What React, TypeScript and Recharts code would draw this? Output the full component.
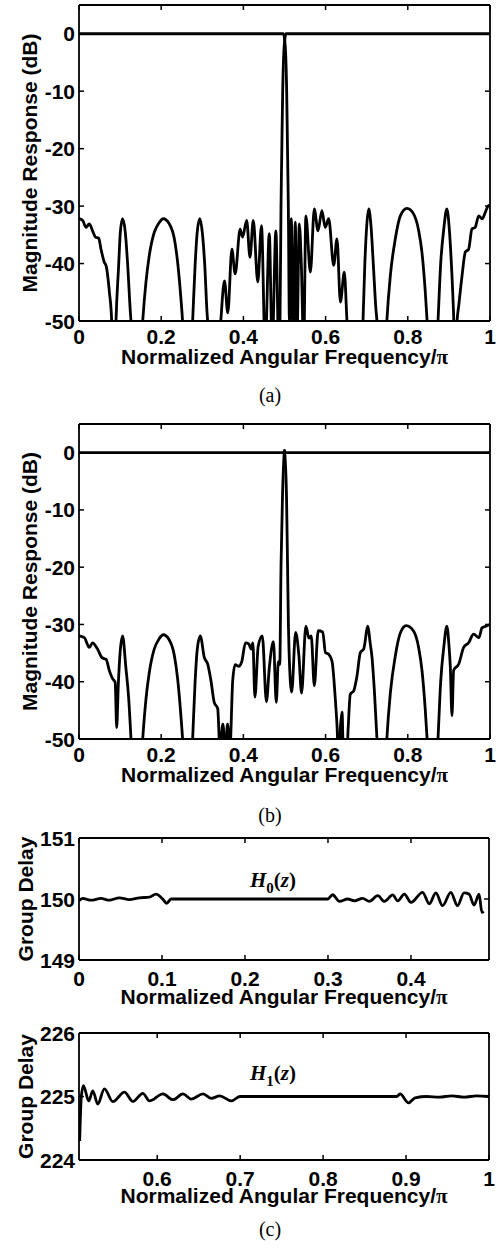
import React from 'react'
import { LineChart, Line, XAxis, YAxis } from 'recharts'

const SANS = '"Liberation Sans", Arial, Helvetica, sans-serif'
const SERIF = '"Liberation Serif", "Times New Roman", Times, serif'
const INK = '#000'

// ---- (a) magnitude responses, dB ----
const aH0Freq = [
  0, 0.4975, 0.5005, 0.5025, 0.5053, 0.5073, 0.5093, 0.512, 0.5145, 0.5166, 0.5207, 0.5263, 0.53, 0.536, 0.541,
  0.5467, 0.552, 0.563, 0.5725, 0.5815, 0.591, 0.599, 0.6075, 0.6197, 0.6277, 0.636, 0.6455, 0.652, 0.671,
  0.691, 0.6955, 0.7, 0.705, 0.7105, 0.716, 0.7225, 0.725, 0.737,
  0.749, 0.7575, 0.7696, 0.7818, 0.798, 0.8143, 0.8265, 0.8345, 0.8426, 0.847, 0.86,
  0.8735, 0.88, 0.8875, 0.895, 0.901, 0.906, 0.912, 0.916,
  0.92, 0.924, 0.932, 0.94, 0.948, 0.956, 0.964, 0.9725, 0.981, 0.989, 0.997, 1,
]
const aH0Db = [
  0, 0, -1.2, -3, -10, -20, -30, -50, -44, -32.2, -55, -32.8, -55, -33.1, -40.3,
  -55, -31.7, -41.5, -30.5, -34.3, -30.8, -33.7, -32.2, -40.3, -35.7, -46.7, -41.5, -50, -70,
  -50, -40, -33.5, -30.5, -33.5, -40, -48, -50, -70,
  -50, -42.1, -35.7, -31.7, -30.4, -31.4, -34.3, -38.1, -45, -50, -70,
  -50, -40, -34, -30.5, -34, -40, -50, -60,
  -50, -47.3, -42.1, -38, -37.5, -34, -33.7, -31.7, -32.2, -31, -29.9, -30,
]
const aH1Freq = [
  0, 0.009, 0.017, 0.025, 0.033, 0.04, 0.048, 0.0535, 0.0617, 0.066, 0.074, 0.0795, 0.085,
  0.09, 0.0965, 0.1005, 0.106, 0.1127, 0.1185, 0.125, 0.1265, 0.14,
  0.155, 0.163, 0.171, 0.183, 0.195, 0.205, 0.2197, 0.232, 0.24, 0.248, 0.252, 0.264,
  0.2765, 0.2825, 0.2875, 0.294, 0.3, 0.306, 0.3115, 0.313, 0.329,
  0.345, 0.354, 0.362, 0.372, 0.38, 0.392, 0.398, 0.408, 0.416, 0.424, 0.435, 0.444, 0.453, 0.463, 0.47,
  0.479, 0.486, 0.489, 0.4915, 0.4935, 0.4956, 0.4985, 0.5005, 0.503, 1,
]
const aH1Db = [
  -32.2, -32.5, -33.7, -33.1, -34.3, -35.4, -35.6, -37.5, -39.8, -40.4, -45, -50, -65,
  -50, -40.3, -34.6, -32.2, -34.6, -40.3, -48.5, -50, -70,
  -50, -43.2, -38.6, -34.6, -32.9, -32.2, -33.1, -35.7, -39.8, -46.1, -50, -70,
  -50, -40.3, -34.6, -32.2, -34.6, -40.3, -48.5, -50, -70,
  -50, -43, -48.6, -37.5, -41.8, -34, -35.4, -32.5, -38.9, -32.5, -43.2, -33.4, -55, -34.8, -55,
  -34.3, -55, -50, -30, -20, -10, -3, -1.2, 0, 0,
]

// ---- (b) magnitude responses ----
const bH0Freq = [
  0, 0.4985, 0.5, 0.5015, 0.505, 0.5075, 0.5095, 0.5109, 0.5175, 0.527, 0.535, 0.5415, 0.552, 0.5596, 0.565,
  0.5725, 0.582, 0.593, 0.5995, 0.6075, 0.6156, 0.6236, 0.628, 0.632, 0.636, 0.64, 0.644, 0.65, 0.655, 0.66,
  0.6683, 0.6764, 0.6845, 0.6926, 0.703, 0.708, 0.713, 0.719, 0.725, 0.737,
  0.749, 0.7575, 0.7696, 0.7818, 0.796, 0.8143, 0.8265, 0.8345, 0.8426, 0.847, 0.86,
  0.8735, 0.88, 0.8875, 0.895, 0.9, 0.9035, 0.9075, 0.9116, 0.924, 0.936, 0.948, 0.96, 0.973, 0.9805, 0.99, 1,
]
const bH0Db = [
  0, 0, 0.4, -1, -8, -20, -30, -34.3, -41.8, -31.4, -35.4, -42, -30.3, -32.4, -32,
  -40.7, -31.1, -31.3, -34.9, -35.2, -36.4, -43, -48, -55, -48, -45.3, -55, -55, -48, -42.2,
  -41.6, -39, -34.9, -34.3, -30.3, -33, -35.8, -42, -50, -70,
  -50, -42, -35.5, -31.5, -30.2, -31.2, -34.1, -38, -45, -50, -70,
  -50, -40, -34, -30.3, -33.5, -37.5, -45.9, -38, -36.9, -34, -33.2, -31.7, -32.3, -30.6, -30.3, -30,
]
const bH1Freq = [
  0, 0.013, 0.025, 0.033, 0.045, 0.056, 0.066, 0.074, 0.082, 0.088, 0.0917, 0.0957, 0.1005, 0.106, 0.114,
  0.121, 0.1265, 0.14,
  0.155, 0.163, 0.171, 0.183, 0.195, 0.205, 0.2197, 0.232, 0.24, 0.248, 0.252, 0.264,
  0.2765, 0.2825, 0.2875, 0.295, 0.305, 0.313, 0.321, 0.329, 0.3375, 0.343, 0.35, 0.356, 0.3615, 0.367,
  0.374, 0.38, 0.388, 0.396, 0.405, 0.413, 0.419, 0.423, 0.428, 0.436, 0.446, 0.456, 0.463, 0.473, 0.48,
  0.485, 0.4885, 0.4915, 0.495, 0.4985, 0.5, 0.502, 1,
]
const bH1Db = [
  -32, -32.3, -34, -33.2, -34.3, -35.8, -36.1, -38.1, -39.5, -40.1, -48, -40.4, -34.5, -32, -37.5,
  -43, -50, -70,
  -50, -43, -38.4, -34.3, -32.5, -31.8, -32.7, -35.4, -39.5, -46, -50, -70,
  -50, -40, -34.5, -32, -35.8, -36.9, -39.8, -43.6, -44.7, -52, -47.4, -52, -47.4, -52,
  -39.8, -37, -37.3, -36.5, -33.2, -33.4, -34.3, -33.2, -42.7, -33.8, -32, -43.5, -37.6, -33, -43.6,
  -36.5, -37, -20, -8, -1, 0.4, 0, 0,
]

// ---- (c) group delays ----
const cH0Freq = [
  0, 0.0044, 0.0145, 0.0265, 0.0365, 0.0486, 0.0606, 0.0727, 0.0847, 0.0928, 0.1008, 0.1056, 0.111,
  0.2996, 0.3056, 0.3137, 0.3237, 0.3317, 0.3418, 0.3498, 0.36, 0.368, 0.378, 0.384, 0.392, 0.4,
  0.414, 0.422, 0.43, 0.438, 0.448, 0.456, 0.464, 0.47, 0.476, 0.482, 0.4855, 0.4875,
]
const cH0Delay = [
  149.97, 150.01, 149.98, 150.01, 149.98, 150.02, 149.99, 150.02, 150.03, 150.08, 150.0, 149.93, 150.0,
  150.0, 150.07, 149.96, 150.0, 149.97, 150.01, 149.96, 150.055, 149.96, 150.066, 149.97, 150.08, 149.945,
  150.11, 149.92, 150.1, 149.89, 150.11, 149.89, 150.1, 150.08, 149.9, 150.08, 149.78, 149.8,
]
const cH1Freq = [
  0.5065, 0.5085, 0.511, 0.5175, 0.5223, 0.5283, 0.5363, 0.5465, 0.5605, 0.5706, 0.5827, 0.5907, 0.6069,
  0.619, 0.631, 0.6411, 0.6552, 0.6653, 0.6753, 0.6894, 0.6995, 0.8888, 0.8928, 0.903, 0.911, 0.925,
  0.94, 0.955, 0.97, 0.985, 1,
]
const cH1Delay = [
  224.3, 225.0, 225.17, 224.93, 225.09, 224.88, 225.12, 224.92, 225.07, 224.92, 225.05, 224.93, 225.04,
  224.95, 225.04, 224.96, 225.04, 224.97, 225.01, 224.93, 225.0, 225.0, 225.04, 224.9, 224.98, 225.0,
  224.99, 225.01, 224.99, 225.01, 225.0,
]

const magTicksX = [0, 0.2, 0.4, 0.6, 0.8, 1]
const magTicksY = [-50, -40, -30, -20, -10, 0]
const lowTicksX = [0, 0.1, 0.2, 0.3, 0.4]
const lowTicksY = [149, 150, 151]
const highTicksX = [0.6, 0.7, 0.8, 0.9, 1]
const highTicksY = [224, 225, 226]

const pts = (fs: number[], vs: number[]) => fs.map((f, i) => ({ f, v: vs[i] }))

const AXIS = { stroke: INK, strokeWidth: 1.8 }
const TXT = { fontFamily: SANS, fontWeight: 'bold' as const, fontSize: 21, fill: INK }

const bottomTick = (dy: number) => (props: any) => {
  const { x, y, payload } = props
  return (
    <g>
      <line x1={x} y1={y} x2={x} y2={y - 5} stroke={INK} strokeWidth={1.5} />
      <text x={x} y={y + dy} textAnchor="middle" {...TXT}>{String(payload.value)}</text>
    </g>
  )
}
const leftTick = (props: any) => {
  const { x, y, payload } = props
  return (
    <g>
      <line x1={x} y1={y} x2={x + 5} y2={y} stroke={INK} strokeWidth={1.5} />
      <text x={x - 4} y={y} dy="0.36em" textAnchor="end" {...TXT}>{String(payload.value)}</text>
    </g>
  )
}
const topTick = (props: any) => (
  <line x1={props.x} y1={props.y} x2={props.x} y2={props.y + 5} stroke={INK} strokeWidth={1.5} />
)
const rightTick = (props: any) => (
  <line x1={props.x} y1={props.y} x2={props.x - 5} y2={props.y} stroke={INK} strokeWidth={1.5} />
)

const xTitle = (dy: number) => (props: any) => {
  const vb = props.viewBox
  return (
    <text x={vb.x + vb.width / 2} y={vb.y + dy} textAnchor="middle" {...TXT}>
      Normalized Angular Frequency/<tspan fontFamily={SERIF}>π</tspan>
    </text>
  )
}
const yTitle = (text: string, bx: number) => (props: any) => {
  const vb = props.viewBox
  const cy = vb.y + vb.height / 2
  return (
    <text x={bx} y={cy} transform={`rotate(-90 ${bx} ${cy})`} textAnchor="middle" {...TXT}>
      {text}
    </text>
  )
}
const hLabel = (idx: string, dy: number) => (props: any) => {
  const vb = props.viewBox
  return (
    <text x={vb.x + 171} y={vb.y + vb.height + dy} fontFamily={SERIF} fontSize={21} fontWeight="bold" fill={INK}>
      <tspan fontStyle="italic">H</tspan>
      <tspan dy={6} fontSize={15}>{idx}</tspan>
      <tspan dy={-6}>(</tspan>
      <tspan fontStyle="italic">z</tspan>
      <tspan>)</tspan>
    </text>
  )
}

const lineProps = {
  dataKey: 'v',
  type: 'monotone' as const,
  stroke: INK,
  strokeWidth: 2.8,
  strokeLinejoin: 'round' as const,
  dot: false,
  activeDot: false,
  isAnimationActive: false,
}

type PanelProps = {
  top: number
  height: number
  marginTop: number
  right: number
  xDomain: [number, number]
  yDomain: [number, number]
  xTicks: number[]
  yTicks: number[]
  tickDy: number
  titleDy: number
  yLabel: string
  yLabelX: number
  series: { f: number; v: number }[][]
  hTag?: { idx: string; dy: number }
}

function Panel(p: PanelProps) {
  return (
    <div style={{ position: 'absolute', left: 0, top: p.top }}>
      <LineChart width={498} height={p.height} margin={{ top: p.marginTop, right: p.right, bottom: 0, left: 0 }}>
        <XAxis
          dataKey="f" type="number" domain={p.xDomain} ticks={p.xTicks} interval={0} allowDataOverflow
          height={50} tickSize={0} tickMargin={0} tick={bottomTick(p.tickDy)} axisLine={AXIS}
          label={xTitle(p.titleDy)}
        />
        <XAxis
          xAxisId="top" orientation="top" dataKey="f" type="number" domain={p.xDomain} ticks={p.xTicks}
          interval={0} allowDataOverflow height={1} tickSize={0} tickMargin={0} tick={topTick} axisLine={AXIS}
          label={p.hTag ? hLabel(p.hTag.idx, p.hTag.dy) : undefined}
        />
        <YAxis
          type="number" domain={p.yDomain} ticks={p.yTicks} interval={0} allowDataOverflow width={79}
          tickSize={0} tickMargin={0} tick={leftTick} axisLine={AXIS} label={yTitle(p.yLabel, p.yLabelX)}
        />
        <YAxis
          yAxisId="right" orientation="right" type="number" domain={p.yDomain} ticks={p.yTicks} interval={0}
          allowDataOverflow width={1} tickSize={0} tickMargin={0} tick={rightTick} axisLine={AXIS}
        />
        {p.series.map((s, i) => (
          <Line key={i} data={s} {...lineProps} />
        ))}
      </LineChart>
    </div>
  )
}

export default function App() {
  return (
    <div style={{ position: 'absolute', left: 0, top: 0, width: 498, height: 1248, background: '#fff' }}>
      <svg width={498} height={1248} style={{ position: 'absolute', left: 0, top: 0 }}>
        <text x={270} y={402} textAnchor="middle" fontFamily={SERIF} fontSize={20} fill={INK}>(a)</text>
        <text x={270} y={822} textAnchor="middle" fontFamily={SERIF} fontSize={20} fill={INK}>(b)</text>
        <text x={270} y={1236} textAnchor="middle" fontFamily={SERIF} fontSize={20} fill={INK}>(c)</text>
      </svg>
      <Panel
        top={0} height={371} marginTop={4} right={7} xDomain={[0, 1]} yDomain={[-50, 5]} xTicks={magTicksX}
        yTicks={magTicksY} tickDy={23} titleDy={43} yLabel="Magnitude Response (dB)" yLabelX={37}
        series={[pts(aH0Freq, aH0Db), pts(aH1Freq, aH1Db)]}
      />
      <Panel
        top={419} height={370} marginTop={4} right={7} xDomain={[0, 1]} yDomain={[-50, 5]} xTicks={magTicksX}
        yTicks={magTicksY} tickDy={23} titleDy={43} yLabel="Magnitude Response (dB)" yLabelX={37}
        series={[pts(bH0Freq, bH0Db), pts(bH1Freq, bH1Db)]}
      />
      <Panel
        top={823} height={187} marginTop={14} right={8} xDomain={[0, 0.494]} yDomain={[149, 151]}
        xTicks={lowTicksX} yTicks={lowTicksY} tickDy={26} titleDy={44} yLabel="Group Delay" yLabelX={33}
        series={[pts(cH0Freq, cH0Delay)]} hTag={{ idx: '0', dy: 49 }}
      />
      <Panel
        top={1018} height={192} marginTop={14} right={8} xDomain={[0.5057, 1]} yDomain={[224, 226]}
        xTicks={highTicksX} yTicks={highTicksY} tickDy={26} titleDy={43} yLabel="Group Delay" yLabelX={33}
        series={[pts(cH1Freq, cH1Delay)]} hTag={{ idx: '1', dy: 47 }}
      />
    </div>
  )
}
